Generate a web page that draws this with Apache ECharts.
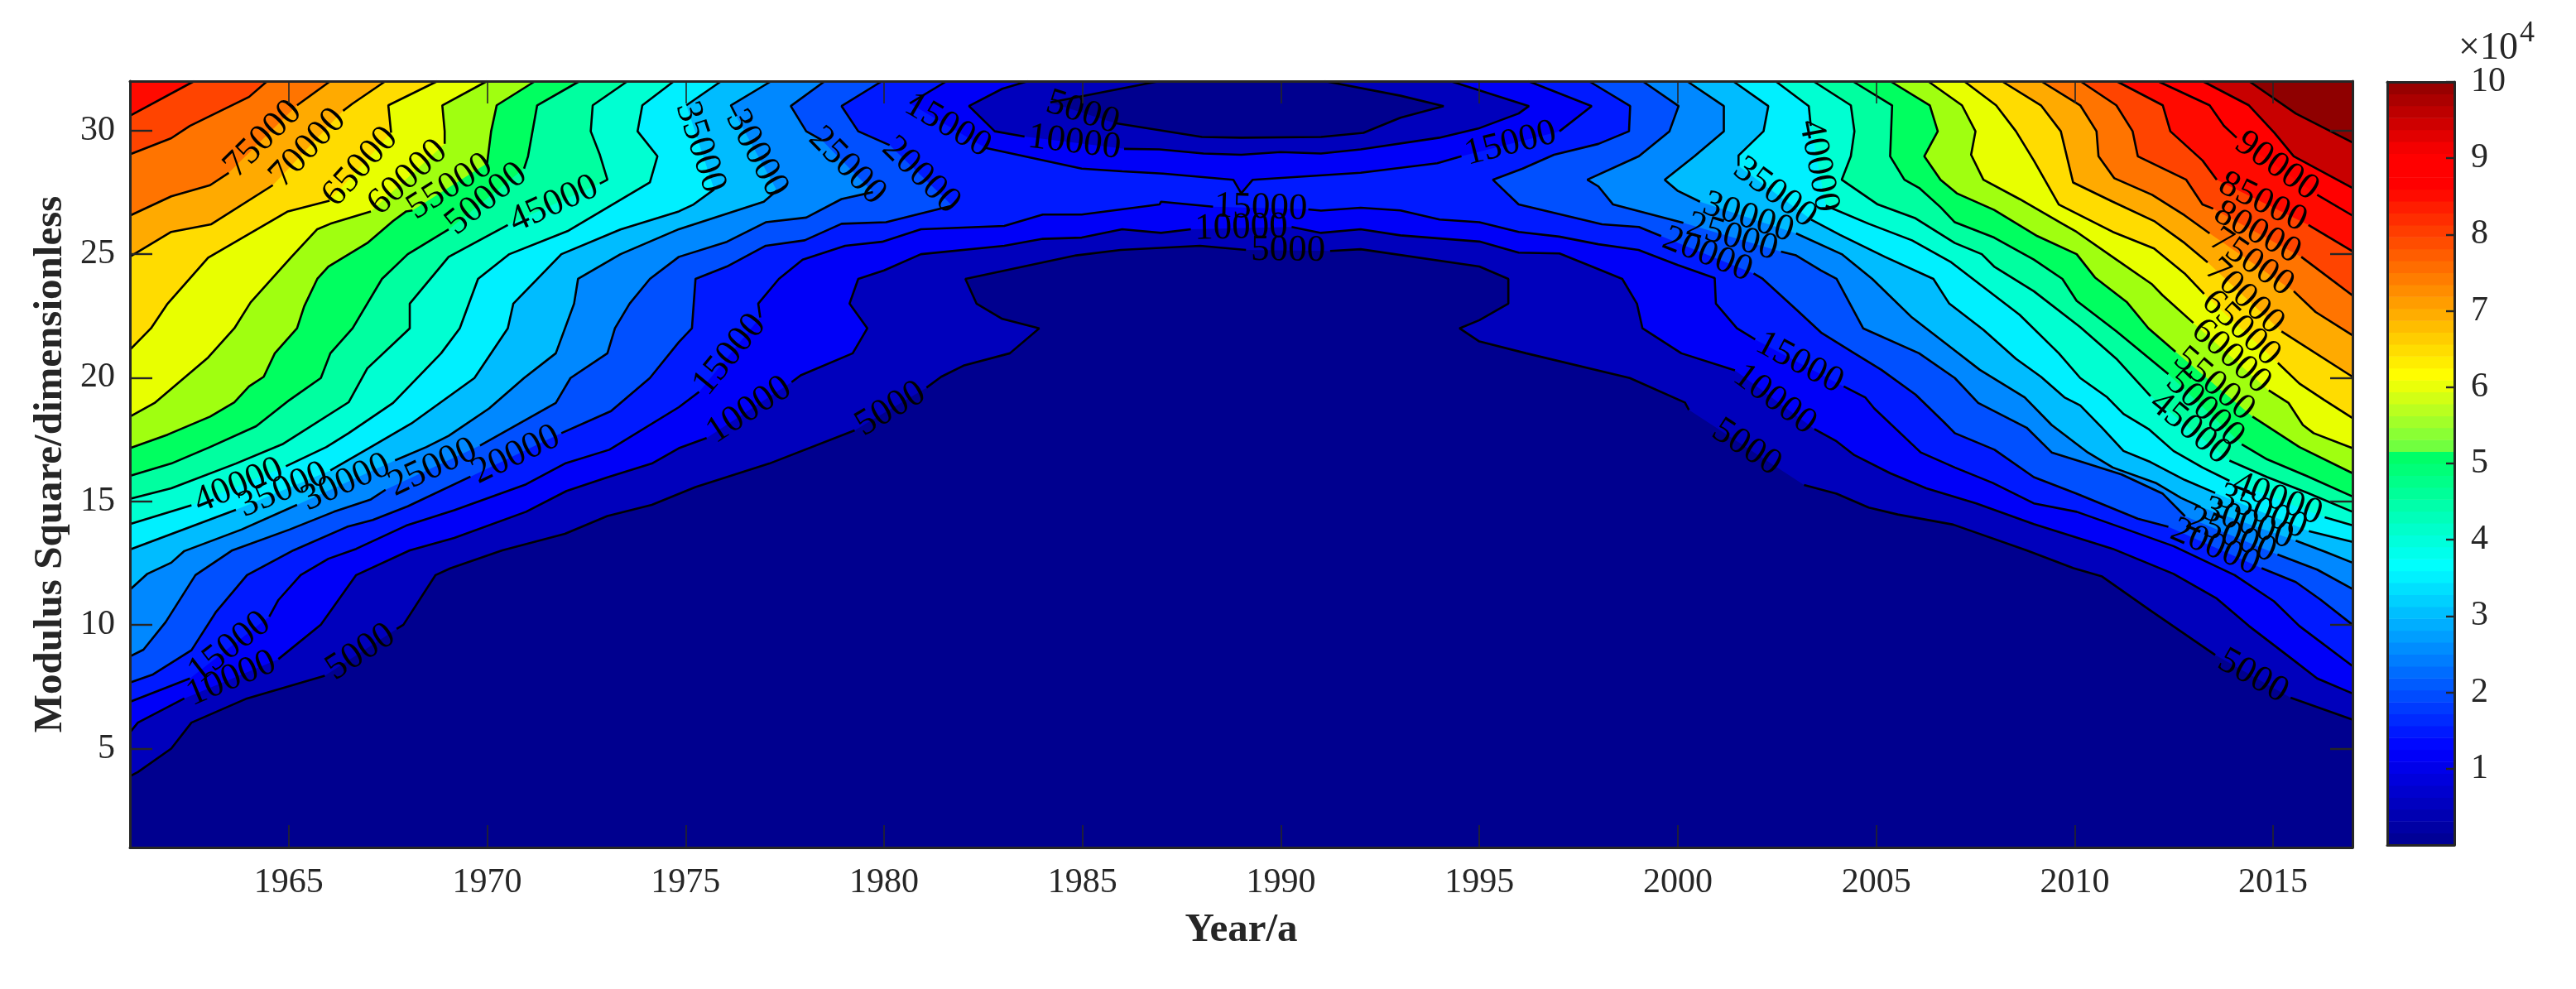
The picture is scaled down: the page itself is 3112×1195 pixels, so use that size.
<!DOCTYPE html>
<html lang="en">

<head>
    <meta charset="UTF-8">
    <title>Modulus Square contour</title>
    <style>
        html, body { margin: 0; padding: 0; background: #fff; }
        #chart { width: 3112px; height: 1195px; }
    </style>
    <script src="https://cdn.jsdelivr.net/npm/echarts@6/dist/echarts.min.js"></script>
</head>

<body>
    <div id="chart"></div>
    <script>
        // tick labels
        const yearTicks = [1965, 1970, 1975, 1980, 1985, 1990, 1995, 2000, 2005, 2010, 2015];
        const modulusTicks = [5, 10, 15, 20, 25, 30];
        const colorbarTicks = [1, 2, 3, 4, 5, 6, 7, 8, 9, 10];

        // fill colour of each band, lowest first (below 5000, 5000-10000, ...)
        const bandColors = ['#00008f', '#0000bc', '#0000f8', '#001aff', '#0050ff', '#0088ff', '#00bcff', '#00f0ff',
            '#00ffd2', '#00ffa0', '#00ff60', '#a0ff10', '#e8ff00', '#ffdc00', '#ffaa00', '#ff7400', '#ff4400',
            '#ff0a00', '#ff0000', '#c80000', '#8f0000'];

        // colorbar colour stops [value, r, g, b]
        const colorbarStops = [[0, 0, 0, 143], [1.25, 0, 0, 255], [3.65, 0, 255, 255], [5.15, 0, 255, 96], [5.16, 102, 255, 68],
            [6.15, 255, 255, 0], [8.45, 255, 20, 0], [8.6, 255, 0, 0], [9.05, 255, 0, 0], [10, 143, 0, 0]];

        // contour lines as [year, modulus], null = break in the line where a label sits
        const c5000Low = [[1961, 3.88], [1961.2, 4.05], [1962.04, 5], [1962.55, 6.05], [1963.95, 7.03], [1965.91, 7.95], null,
            [1967.72, 9.84], [1967.89, 10.01], [1968.7, 12.02], [1969.07, 12.29], [1970.38, 13.02], [1971.96, 13.69], [1973.03, 14.41],
            [1974.15, 14.86], [1975.25, 15.58], [1977.11, 16.53], [1979.26, 17.87], null,
            [1981.07, 19.6], [1981.44, 20.04], [1982, 20.49], [1983.17, 20.99], [1983.91, 22], [1982.98, 22.38], [1982.33, 23], [1982.05, 24],
            [1984.84, 24.95], [1985.96, 25.17], [1987.96, 25.34], [1989.12, 25.17], null,
            [1991.24, 25.13], [1992.01, 25.2], [1995, 24.5], [1995.73, 24], [1995.73, 23], [1995, 22.33], [1994.5, 22], [1995, 21.47],
            [1996.18, 20.99], [1998.79, 19.99], [2000.18, 19], [2000.28, 18.7], null,
            [2003.18, 15.66], [2004, 15.31], [2004.81, 14.75], [2005.54, 14.47], [2006.94, 14.06], [2008.79, 13.02], [2009.97, 12.3],
            [2010.69, 11.96], [2011.87, 10.63], [2013.54, 8.79], null,
            [2015.44, 7.06], [2017, 6.17]];
        const c5000Top = [[1986.94, 32], [1984.19, 31.14], null,
            [1985.82, 30.3], [1988.01, 29.74], [1989, 29.71], [1991.01, 29.74], [1992.08, 29.91], [1993.01, 30.52], [1994.1, 30.99],
            [1993.01, 31.41], [1991.1, 32]];

        const c10000Low = [[1961, 5.66], [1961.2, 6.05], [1962.37, 7.03], null,
            [1964.74, 8.62], [1965.81, 10.01], [1966.7, 12.02], [1968.05, 13.02], [1969.17, 13.52], [1970.98, 14.58], [1972, 15.42],
            [1973.03, 15.97], [1974.15, 16.53], [1974.83, 17.15], [1975.53, 17.56], null,
            [1977.67, 19.82], [1977.9, 20.1], [1979.21, 20.99], [1979.58, 22], [1979.13, 23], [1979.35, 24], [1980, 24.34], [1980.93, 25],
            [1983.03, 25.34], [1984, 25.62], [1984.98, 25.67], [1986, 26.01], [1986.98, 25.86], [1987.73, 26.01], null,
            [1990.27, 26.1], [1991.01, 25.86], [1992.01, 26.01], [1993.01, 25.76], [1995, 25.51], [1995.99, 25.06], [1997.02, 25.03],
            [1998, 24.39], [1998.6, 24], [1998.97, 23], [1999.11, 22], [2000.09, 20.99], [2001.44, 20.3], null,
            [2003.44, 17.93], [2004, 17.43], [2004.45, 16.87], [2005.35, 16.14], [2006.26, 15.53], [2007.52, 14.92], [2008.97, 14.08],
            [2010.96, 13.08], [2012.49, 12.07], [2013.58, 11.07], [2014.39, 9.96], [2015.48, 8.62], [2016.11, 7.84], [2017, 7.23]];
        const c10000Top = [[1983.63, 32], [1982.98, 31.69], [1982.14, 30.99], [1982.79, 29.97], [1983.54, 29.76], null,
            [1986.05, 29.26], [1986.94, 29.24], [1988.05, 29.07], [1989, 29.02], [1989.99, 29.13], [1991.01, 29.07], [1992.01, 29.24],
            [1993.99, 29.71], [1994.97, 30.08], [1995.99, 30.69], [1996.25, 30.99], [1994.27, 32]];

        const c15000Low = [[1961, 6.89], [1962.51, 7.84], null,
            [1964.51, 10.34], [1964.74, 11.01], [1965.3, 12.02], [1966, 12.68], [1966.7, 13.08], [1967.96, 14.02], [1969.17, 14.64],
            [1970.98, 15.69], [1971.96, 16.53], [1973.08, 17.09], [1974.83, 18.81], [1975.34, 19.43], null,
            [1976.88, 22.44], [1976.83, 23], [1977.35, 24], [1977.95, 24.78], [1979.02, 25.34], [1979.95, 25.5], [1980.93, 26.01],
            [1983.03, 26.14], [1984, 26.6], [1984.98, 26.6], [1986.94, 27.01], [1986.98, 27.12], [1988.29, 26.92], null,
            [1990.69, 26.81], [1991.01, 26.76], [1992.01, 26.88], [1993.01, 26.77], [1994, 26.4], [1995, 26.29], [1995.99, 25.9],
            [1997.01, 25.71], [1998, 25.4], [1999.01, 25.17], [2000, 24.56], [2000.93, 24.03], [2000.96, 23], [2001.49, 22], [2001.95, 21.55], null,
            [2004.18, 19.65], [2004.72, 19.21], [2004.95, 18.76], [2006.12, 16.98], [2006.98, 16.37], [2007.93, 15.75], [2008.97, 14.92],
            [2010.05, 14.58], [2011.32, 13.86], [2012.49, 13.19], [2014.03, 12.02], [2015.02, 10.96], [2015.66, 9.96], [2017, 8.34]];
        const c15000Top = [[1981.58, 32], [1980.65, 31.1], null,
            [1982.56, 29.3], [1984.98, 28.46], [1986, 28.35], [1987.03, 28.26], [1988.8, 28.01], [1989, 27.46], [1989.29, 28.01],
            [1992.01, 28.29], [1993.94, 28.68], [1994.55, 28.96], null,
            [1997.02, 29.97], [1997.83, 30.99], [1996.23, 32]];

        const c20000Left = [[1961, 7.67], [1961.58, 8], [1962.55, 8.98], [1963.16, 10.51], [1963.95, 12.02], [1965.12, 13.02], [1966.47, 13.97],
            [1967.12, 14.25], [1968, 14.8], [1969.58, 16], null,
            [1971.87, 17.76], [1973.12, 18.65], [1974.1, 19.99], [1974.83, 21.44], [1975.16, 22], [1975.25, 24], [1976.04, 24.5], [1977.02, 25.34],
            [1978, 25.56], [1978.93, 26.23], [1980.05, 26.29], [1981.72, 26.96], null,
            [1980.14, 29.41], [1979.35, 29.97], [1978.93, 30.99], [1979.95, 32]];
        const c20000Right = [[1997.76, 32], [1998.8, 30.99], [1998.77, 29.97], [1998, 29.46], [1996.88, 29.02], [1996.09, 28.46], [1995.34, 28.01],
            [1995.99, 27.01], [1998.09, 26.21], [1999.02, 26.1], [1999.58, 25.73], null,
            [2001.91, 24.22], [2002.14, 24], [2002.98, 22.77], [2003.61, 21.83], [2004.45, 20.99], [2005.13, 20.32], [2005.99, 19.32],
            [2006.71, 18.2], [2006.98, 17.76], [2007.98, 17.09], [2008.97, 15.98], [2010.05, 15.31], [2011.59, 14.3], [2012.36, 13.97], null,
            [2014.71, 12.3], [2015.57, 11.74], [2016.2, 11.02], [2017, 10.01]];

        const c25000Left = [[1961, 8.73], [1961.34, 9], [1961.9, 10.12], [1962.65, 12.02], [1963.58, 13.02], [1965.02, 13.86], [1966.14, 14.58],
            [1967.07, 15.08], [1967.44, 15.47], null,
            [1969.82, 17.26], [1971.73, 18.98], [1972.1, 19.99], [1973.03, 20.99], [1973.22, 22], [1973.59, 23], [1974.1, 24], [1974.83, 24.89],
            [1976.04, 25.5], [1977.02, 26.29], [1978.04, 26.48], [1978.93, 27.23], [1979.72, 27.51], null,
            [1978.42, 29.63], [1978.04, 29.97], [1977.65, 30.99], [1978.51, 32]];
        const c25000Right = [[1999.11, 32], [2000.02, 30.99], [1999.79, 29.97], [1999.02, 28.96], [1997.72, 28.01], [1998, 27.74], [1998.37, 27.01],
            [2000.14, 26.27], null,
            [2002.6, 25.1], [2002.98, 24.95], [2003.61, 24.34], [2004, 24], [2004.67, 22], [2006.08, 20.99], [2006.98, 19.99], [2007.57, 18.98],
            [2008.79, 17.98], [2009.42, 16.98], [2010.19, 16.59], [2011.18, 16.09], [2012.22, 15.31], [2012.78, 14.4], null,
            [2015.11, 12.85], [2016.11, 12.24], [2017, 11.46]];

        const c30000Left = [[1961, 11.43], [1961.44, 12.07], [1962.04, 12.52], [1962.37, 12.99], [1963.81, 13.86], [1965.21, 14.86], null,
            [1967.68, 16.66], [1968.47, 17.2], [1969.03, 17.65], [1970.05, 18.76], [1970.93, 19.99], [1971.73, 20.99], [1972.19, 23], [1972.29, 24],
            [1973.36, 25], [1974.83, 26.01], [1976.97, 27.12], [1977.3, 27.57], null,
            [1976.28, 30.58], [1976.14, 31.02], [1977.16, 32]];
        const c30000Right = [[2000.23, 32], [2001.16, 30.99], [2001.16, 29.97], [2000.42, 28.96], [1999.67, 28.01], [1999.99, 27.57], [2000.56, 27.12], null,
            [2002.98, 25.84], [2004.13, 25], [2004.9, 24], [2005.9, 22.44], [2006.98, 21.1], [2007.61, 20.32], [2008.74, 19.21], [2009.42, 18.09],
            [2010.33, 16.98], [2010.96, 16.37], [2012.04, 15.75], [2012.68, 15.14], [2013.17, 14.78], null,
            [2015.57, 13.41], [2016.3, 12.97], [2017, 12.52]];

        const c35000Left = [[1961, 13.05], [1963.67, 14.66], null,
            [1966.05, 16.25], [1967.07, 17.2], [1968.09, 18.15], [1969.68, 19.99], [1970.52, 22], [1970.66, 23], [1971.87, 25], [1973.36, 26],
            [1974.83, 26.73], [1975.2, 27.01], [1975.72, 27.62], null,
            [1975.02, 31.02], [1975.9, 32]];
        const c35000Right = [[2001.39, 32], [2002.28, 30.99], [2002.16, 29.97], [2001.53, 28.99], [2001.53, 28.57], null,
            [2003.36, 26.4], [2004.09, 25.78], [2005.22, 24.89], [2006.44, 24], [2006.84, 23], [2007.7, 21.94], [2008.52, 20.77], [2009.15, 20.04],
            [2009.74, 19.21], [2010.14, 18.88], [2010.69, 17.98], [2011.23, 17.04], [2011.91, 16.59], [2012.77, 15.87], [2013.54, 15.34], null,
            [2015.9, 13.8], [2017, 13.36]];

        const c40000Left = [[1961, 14.08], [1962.55, 14.84], null,
            [1964.93, 16.42], [1965.95, 17.2], [1966.51, 17.76], [1967.63, 18.98], [1968.84, 20.99], [1969.31, 22], [1969.77, 24], [1970.56, 25],
            [1972.05, 25.95], [1974.1, 27.9], [1974.29, 28.96], [1973.79, 29.97], [1973.91, 31.02], [1974.71, 32]];
        const c40000Right = [[2002.46, 32], [2003.3, 30.99], [2003.35, 30.19], null,
            [2003.73, 26.96], [2004.81, 26.23], [2005.9, 25.56], [2006.89, 24.67], [2007.61, 23.78], [2008.61, 22.55], [2009.6, 20.99], [2010.14, 19.99],
            [2010.82, 19.21], [2011.23, 18.54], [2011.86, 17.93], [2012.49, 17.04], [2013.22, 16.37], [2013.9, 15.83], null,
            [2016.3, 14.36], [2017, 14.03]];

        const c45000Left = [[1961, 15.1], [1962.04, 15.53], [1963.67, 16.53], [1964.84, 17.31], [1966.51, 19.01], [1966.98, 20.38], [1968.05, 22],
            [1968.05, 23], [1969.03, 24.89], [1970.52, 26.18], null,
            [1972.84, 27.85], [1973.03, 28.01], [1972.84, 29.02], [1972.61, 29.97], [1972.66, 31.02], [1973.54, 32]];
        const c45000Right = [[2003.41, 32], [2004.36, 31.02], [2004.45, 29.97], [2004.36, 28.96], [2004.13, 28.01], [2005.04, 27.01], [2005.99, 26.45],
            [2006.98, 25.45], [2007.66, 25], [2007.97, 24.5], [2008.97, 23.5], [2010.14, 22.05], [2011.05, 20.77], [2011.91, 19.26], null,
            [2013.9, 16.65], [2014.85, 15.98], [2015.84, 15.36], [2017, 14.58]];

        const c50000Left = [[1961, 16.03], [1962.04, 16.53], [1963.02, 17.2], [1964.18, 18.04], [1965.02, 19.1], [1965.81, 19.99], [1966.05, 20.99],
            [1966.61, 22], [1967.35, 24], [1968, 25], [1969.03, 26], null,
            [1970.93, 28.46], [1971.03, 28.96], [1971.26, 31.02], [1972.33, 32]];
        const c50000Right = [[2004.4, 32], [2005.4, 31.02], [2005.35, 28.96], [2005.71, 28.01], [2006.08, 27.68], [2006.62, 26.9], [2006.98, 26.29],
            [2007.97, 25.67], [2008.97, 24.78], [2009.69, 24], [2010.05, 23.11], [2011.05, 21.88], [2012.36, 20.15], null,
            [2014.21, 17.31], [2014.85, 16.7], [2015.84, 16.03], [2017, 15.2]];

        const c55000Left = [[1961, 17.15], [1961.95, 17.7], [1963.02, 18.43], [1963.63, 19.01], [1964, 19.65], [1964.37, 20.04], [1964.65, 20.99],
            [1965.21, 22], [1965.39, 22.89], [1965.72, 24], [1966, 24.5], [1966.98, 25.45], [1967.63, 26.34], [1967.96, 26.73], [1968.12, 26.77], null,
            [1970, 28.68], [1970.1, 29.97], [1970.24, 31.02], [1971.21, 32]];
        const c55000Right = [[2005.35, 32], [2006.35, 31.02], [2006.55, 29.97], [2006.21, 28.96], [2006.62, 28.01], [2007.03, 27.46], [2007.97, 26.79],
            [2009.06, 25.73], [2010.05, 25], [2010.51, 24.06], [2011.32, 23.05], [2011.86, 22], [2012.54, 21.05], null,
            [2014.48, 18.43], [2015.66, 17.2], [2017, 16.14]];

        const c60000Left = [[1961, 18.43], [1961.62, 18.98], [1962.97, 20.82], [1963.63, 22], [1964.04, 23.05], [1965.07, 24.89], [1965.72, 26.01],
            [1966.05, 26.23], [1967.07, 26.73], null,
            [1968.93, 29.46], [1968.93, 29.97], [1968.87, 31.02], [1970, 32]];
        const c60000Right = [[2006.3, 32], [2007.16, 31.02], [2007.5, 29.97], [2007.39, 29.02], [2007.7, 28.01], [2008.61, 27.23], [2009.69, 26.23],
            [2010.05, 25.9], [2011.05, 24.78], [2011.95, 23.78], [2012.22, 23.33], [2012.99, 22.22], null,
            [2014.89, 19.49], [2015.39, 18.98], [2015.75, 18.09], [2016.02, 17.76], [2017, 17.15]];

        const c65000Left = [[1961, 21.13], [1961.53, 22], [1961.95, 23], [1962.97, 24.86], [1964.98, 26.73], [1966.03, 27.16], null,
            [1967.58, 29.91], [1967.51, 31.02], [1968.75, 32]];
        const c65000Right = [[2007.21, 32], [2008.02, 31.02], [2008.52, 29.97], [2008.97, 28.79], [2009.6, 27.01], [2010.96, 25.9], [2012, 25.23],
            [2012.77, 24.22], [2013.26, 23.39], null,
            [2015.12, 20.6], [2015.66, 19.77], [2016.29, 19.1], [2017, 18.37]];

        const c70000Left = [[1961, 24.9], [1962.04, 25.9], [1963.05, 26.21], [1964.6, 27.79], null,
            [1966.37, 30.8], [1966.6, 31.08], [1967.44, 32]];
        const c70000Right = [[2008.16, 32], [2009.15, 31.02], [2009.65, 29.97], [2009.96, 27.9], [2010.96, 27.12], [2012, 26.34], [2012.77, 25.45],
            [2013.35, 24.67], null,
            [2015.21, 21.88], [2017, 20.04]];

        const c75000Left = [[1961, 26.56], [1962.04, 27.34], [1963.02, 27.79], [1963.49, 28.29], null,
            [1965.21, 31.02], [1966.05, 32]];
        const c75000Right = [[2009.15, 32], [2010.14, 31.02], [2010.55, 29.97], [2010.6, 28.96], [2011, 28.07], [2011.95, 27.4], [2012.77, 26.57],
            [2013.4, 25.84], null,
            [2015.52, 23.5], [2016.07, 22.66], [2017, 21.72]];

        const c80000Left = [[1961, 29.04], [1962.04, 29.69], [1962.51, 30.19], [1964, 31.36], [1964.46, 32]];
        const c80000Right = [[2010.14, 32], [2011.05, 31.02], [2011.46, 29.97], [2011.59, 28.96], [2012.81, 28.01], [2013.22, 27.01], [2013.49, 26.84], null,
            [2015.71, 24.89], [2017, 23.33]];

        const c85000Left = [[1961, 30.6], [1962.62, 32]];
        const c85000Right = [[2011.05, 32], [2012.22, 31.02], [2012.41, 29.97], [2013.22, 28.79], [2013.58, 28.01], null,
            [2015.89, 26.18], [2017, 25.12]];

        const c90000Right = [[2012.09, 32], [2013.4, 31.02], [2013.76, 30.19], [2014.08, 29.71], null,
            [2016.11, 27.4], [2017, 26.56]];
        const c95000Right = [[2013.22, 32], [2014.39, 31.02], [2015.03, 29.91], [2015.52, 28.96], [2017, 27.68]];
        const c100000Right = [[2014.39, 32], [2015.57, 30.69], [2017, 29.52]];

        const TL = [1961, 32], TR = [2017, 32];
        const FONT = '"Liberation Serif", "Times New Roman", serif';
        const INK = '#262626';

        // painted in this order: [level, line, band index, extra corner points]
        const contourTable = [
            [5000, c5000Low, 1, [TR, TL]],
            [10000, c10000Low, 2, [TR, TL]],
            [15000, c15000Low, 3, [TR, TL]],
            [15000, c15000Top, 2, []],
            [10000, c10000Top, 1, []],
            [5000, c5000Top, 0, []],
            [20000, c20000Left, 4, [TL]], [20000, c20000Right, 4, [TR]],
            [25000, c25000Left, 5, [TL]], [25000, c25000Right, 5, [TR]],
            [30000, c30000Left, 6, [TL]], [30000, c30000Right, 6, [TR]],
            [35000, c35000Left, 7, [TL]], [35000, c35000Right, 7, [TR]],
            [40000, c40000Left, 8, [TL]], [40000, c40000Right, 8, [TR]],
            [45000, c45000Left, 9, [TL]], [45000, c45000Right, 9, [TR]],
            [50000, c50000Left, 10, [TL]], [50000, c50000Right, 10, [TR]],
            [55000, c55000Left, 11, [TL]], [55000, c55000Right, 11, [TR]],
            [60000, c60000Left, 12, [TL]], [60000, c60000Right, 12, [TR]],
            [65000, c65000Left, 13, [TL]], [65000, c65000Right, 13, [TR]],
            [70000, c70000Left, 14, [TL]], [70000, c70000Right, 14, [TR]],
            [75000, c75000Left, 15, [TL]], [75000, c75000Right, 15, [TR]],
            [80000, c80000Left, 16, [TL]], [80000, c80000Right, 16, [TR]],
            [85000, c85000Left, 17, [TL]], [85000, c85000Right, 17, [TR]],
            [90000, c90000Right, 18, [TR]],
            [95000, c95000Right, 19, [TR]],
            [100000, c100000Right, 20, [TR]]
        ];

        // fill regions
        let regions = [{ pts: [[1961, 1], [2017, 1], TR, TL], color: bandColors[0] }];
        contourTable.forEach(function (row) {
            regions.push({ pts: row[1].filter(p => p).concat(row[3]), color: bandColors[row[2]] });
        });

        // line pieces, and one label per break in a line
        let pieces = [];
        let labels = [];
        contourTable.forEach(function (row) {
            let cur = [];
            row[1].forEach(function (p, i) {
                if (p) {
                    cur.push(p);
                } else {
                    pieces.push(cur);
                    cur = [];
                    labels.push({ text: String(row[0]), a: row[1][i - 1], b: row[1][i + 1] });
                }
            });
            pieces.push(cur);
        });

        function colorAt(v) {
            for (let i = 1; i < colorbarStops.length; i++) {
                let s0 = colorbarStops[i - 1], s1 = colorbarStops[i];
                if (v <= s1[0]) {
                    let t = (v - s0[0]) / (s1[0] - s0[0]);
                    let c = [1, 2, 3].map(k => Math.round(s0[k] + (s1[k] - s0[k]) * t));
                    return 'rgb(' + c.join(',') + ')';
                }
            }
            return 'rgb(143,0,0)';
        }

        let colorbarBands = [];
        for (let i = 0; i < 64; i++) {
            colorbarBands.push([0, i * 10 / 64, (i + 1) * 10 / 64]);
        }

        function boxAxis(pos, gridIndex, min, max, ticks, showLabel, tickLen, tickWidth, margin) {
            return {
                type: 'value',
                gridIndex: gridIndex,
                position: pos,
                min: min,
                max: max,
                z: 10,
                splitLine: { show: false },
                axisLine: { show: true, onZero: false, lineStyle: { color: INK, width: 3 } },
                axisTick: { show: ticks.length > 0, inside: true, length: tickLen, customValues: ticks, lineStyle: { color: INK, width: tickWidth } },
                axisLabel: { show: showLabel, customValues: ticks, margin: margin, color: INK, fontFamily: FONT, fontSize: 42, formatter: v => String(v) }
            };
        }

        let xMain = boxAxis('bottom', 0, 1961, 2017, yearTicks, true, 27, 1.6, 22);
        xMain.name = 'Year/a';
        xMain.nameLocation = 'middle';
        xMain.nameGap = 76;
        xMain.nameTextStyle = { color: INK, fontFamily: FONT, fontSize: 49, fontWeight: 'bold' };

        let yMain = boxAxis('left', 0, 1, 32, modulusTicks, true, 27, 2.4, 18);
        yMain.name = 'Modulus Square/dimensionless';
        yMain.nameLocation = 'middle';
        yMain.nameGap = 66;
        yMain.nameTextStyle = { color: INK, fontFamily: FONT, fontSize: 49, fontWeight: 'bold' };

        let yBar = boxAxis('right', 1, 0, 10, colorbarTicks, true, 10, 2.4, 20);

        let series = [];
        series.push({
            type: 'custom',
            xAxisIndex: 0,
            yAxisIndex: 0,
            clip: true,
            silent: true,
            z: 2,
            animation: false,
            data: regions.map(r => r.pts[0]),
            renderItem: function (params, api) {
                let r = regions[params.dataIndex];
                return {
                    type: 'polygon',
                    shape: { points: r.pts.map(p => api.coord(p)) },
                    style: { fill: r.color }
                };
            }
        });
        pieces.forEach(function (piece) {
            series.push({
                type: 'line',
                xAxisIndex: 0,
                yAxisIndex: 0,
                silent: true,
                z: 3,
                animation: false,
                symbol: 'none',
                lineStyle: { color: '#000', width: 2.6 },
                data: piece
            });
        });
        series.push({
            type: 'custom',
            xAxisIndex: 0,
            yAxisIndex: 0,
            silent: true,
            z: 4,
            animation: false,
            data: labels.map(l => l.a),
            renderItem: function (params, api) {
                let l = labels[params.dataIndex];
                let p = api.coord(l.a), q = api.coord(l.b);
                if (q[0] < p[0]) {
                    let t = p; p = q; q = t;
                }
                return {
                    type: 'text',
                    x: (p[0] + q[0]) / 2,
                    y: (p[1] + q[1]) / 2,
                    rotation: Math.atan2(p[1] - q[1], q[0] - p[0]),
                    style: {
                        text: l.text,
                        align: 'center',
                        verticalAlign: 'middle',
                        fill: '#000',
                        font: '45px ' + FONT
                    }
                };
            }
        });
        // colorbar
        series.push({
            type: 'custom',
            xAxisIndex: 2,
            yAxisIndex: 2,
            silent: true,
            z: 2,
            animation: false,
            encode: { x: 0, y: 1 },
            data: colorbarBands,
            renderItem: function (params, api) {
                let lo = api.coord([0, api.value(1)]);
                let hi = api.coord([1, api.value(2)]);
                return {
                    type: 'rect',
                    shape: { x: lo[0], y: hi[1], width: hi[0] - lo[0], height: lo[1] - hi[1] + 0.5 },
                    style: { fill: colorAt((api.value(1) + api.value(2)) / 2) }
                };
            }
        });

        let myChart = echarts.init(document.getElementById('chart'));
        myChart.setOption({
            animation: false,
            backgroundColor: '#fff',
            grid: [
                { left: 157, right: 270, top: 98, bottom: 171 },
                { left: 2884, right: 147, top: 99, bottom: 174 }
            ],
            xAxis: [
                xMain,
                boxAxis('top', 0, 1961, 2017, yearTicks, false, 27, 1.6, 8),
                boxAxis('bottom', 1, 0, 1, [], false, 0, 1, 8),
                boxAxis('top', 1, 0, 1, [], false, 0, 1, 8)
            ],
            yAxis: [
                yMain,
                boxAxis('right', 0, 1, 32, modulusTicks, false, 27, 2.4, 8),
                yBar,
                boxAxis('left', 1, 0, 10, [], false, 0, 1, 8)
            ],
            series: series,
            graphic: [
                { type: 'text', left: 2970, top: 36, silent: true, style: { text: '×10', fill: INK, font: '46px ' + FONT } },
                { type: 'text', left: 3044, top: 23, silent: true, style: { text: '4', fill: INK, font: '36px ' + FONT } }
            ]
        });
    </script>
</body>

</html>
